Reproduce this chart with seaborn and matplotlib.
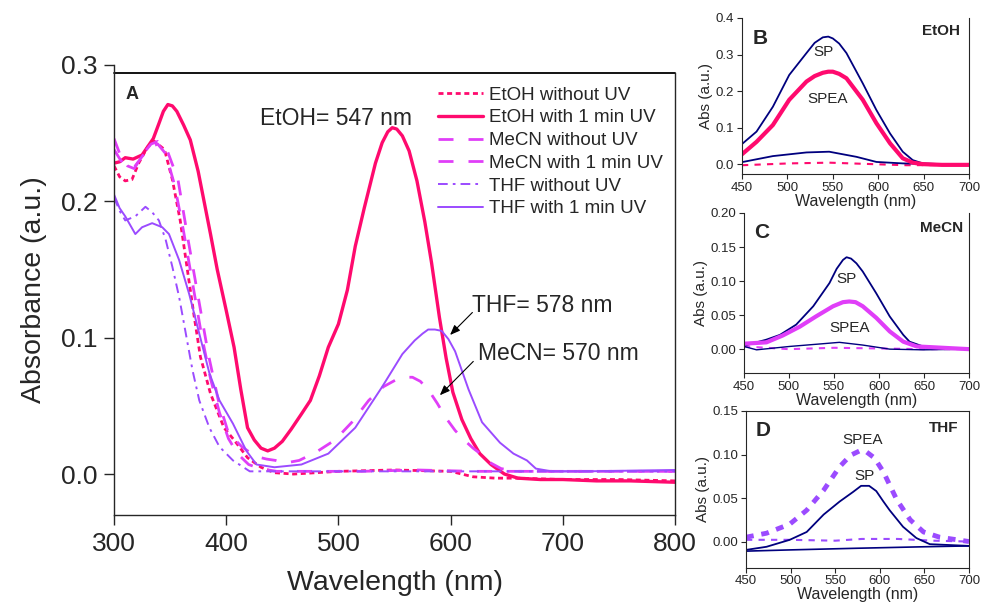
import numpy as np
import pandas as pd
import matplotlib
matplotlib.use("Agg")
import matplotlib.pyplot as plt
import seaborn as sns

# ---------------- data ----------------
# Panel A
etoh_uv_wl = [300, 305, 310, 317, 325, 335, 340, 344, 348, 352, 356, 362, 368, 375, 386, 392, 400, 407,
              413, 419, 425, 431, 437, 443, 450, 458, 467, 475, 483, 491, 500, 508, 515, 523, 533, 539,
              544, 548, 552, 557, 563, 570, 577, 583, 590, 596, 602, 610, 618, 626, 636, 648, 660, 680,
              700, 730, 760, 800]
etoh_uv_abs = [0.228, 0.229, 0.232, 0.231, 0.234, 0.246, 0.257, 0.266, 0.271, 0.270, 0.266, 0.256, 0.245,
               0.222, 0.176, 0.150, 0.120, 0.093, 0.062, 0.034, 0.025, 0.019, 0.017, 0.019, 0.024, 0.033,
               0.044, 0.054, 0.072, 0.093, 0.110, 0.135, 0.167, 0.195, 0.228, 0.243, 0.251, 0.254, 0.253,
               0.248, 0.237, 0.215, 0.185, 0.155, 0.115, 0.085, 0.060, 0.040, 0.026, 0.015, 0.007, 0.000,
               -0.003, -0.004, -0.004, -0.005, -0.005, -0.006]

etoh_wl = [300, 305, 310, 316, 322, 330, 336, 345, 352, 359, 365, 371, 377, 386, 398, 407, 419, 431, 443,
           460, 500, 550, 600, 620, 640, 660, 700, 750, 800]
etoh_abs = [0.226, 0.218, 0.215, 0.216, 0.228, 0.240, 0.244, 0.238, 0.216, 0.186, 0.152, 0.118, 0.086,
            0.059, 0.034, 0.025, 0.012, 0.005, 0.001, 0.000, 0.002, 0.003, 0.002, -0.002, -0.003, -0.003,
            -0.004, -0.004, -0.005]

mecn_uv_wl = [300, 306, 312, 318, 327, 333, 339, 348, 357, 366, 375, 384, 393, 402, 414, 426, 436, 444,
              452, 465, 480, 497, 512, 527, 540, 551, 558, 566, 573, 580, 588, 596, 604, 612, 620, 628,
              636, 645, 660, 700, 750, 800]
mecn_uv_abs = [0.246, 0.233, 0.226, 0.224, 0.236, 0.242, 0.244, 0.236, 0.216, 0.172, 0.130, 0.088, 0.054,
               0.030, 0.020, 0.013, 0.011, 0.010, 0.008, 0.010, 0.016, 0.025, 0.038, 0.054, 0.064, 0.069,
               0.071, 0.071, 0.068, 0.062, 0.052, 0.041, 0.032, 0.025, 0.019, 0.014, 0.008, 0.004, 0.002,
               0.002, 0.002, 0.002]

mecn_wl = [300, 306, 312, 318, 327, 333, 339, 346, 354, 362, 370, 378, 386, 394, 402, 410, 420, 430, 445,
           470, 520, 570, 620, 700, 800]
mecn_abs = [0.238, 0.230, 0.225, 0.225, 0.235, 0.240, 0.242, 0.235, 0.212, 0.178, 0.140, 0.102, 0.070,
            0.045, 0.026, 0.015, 0.007, 0.004, 0.002, 0.002, 0.002, 0.003, 0.002, 0.002, 0.002]

thf_wl = [300, 305, 310, 319, 328, 334, 340, 346, 352, 358, 364, 370, 376, 385, 394, 406, 421, 440, 500,
          600, 700, 800]
thf_abs = [0.203, 0.193, 0.186, 0.189, 0.196, 0.192, 0.186, 0.172, 0.152, 0.130, 0.103, 0.076, 0.054,
           0.034, 0.020, 0.010, 0.002, 0.002, 0.002, 0.002, 0.002, 0.002]

thf_uv_wl = [300, 305, 310, 319, 325, 334, 343, 349, 358, 367, 376, 385, 394, 406, 418, 427, 443, 467,
             491, 515, 539, 557, 568, 575, 580, 586, 592, 598, 604, 616, 628, 644, 656, 668, 676, 690,
             720, 800]
thf_uv_abs = [0.205, 0.195, 0.189, 0.176, 0.181, 0.184, 0.181, 0.176, 0.157, 0.132, 0.103, 0.074, 0.054,
              0.037, 0.017, 0.007, 0.005, 0.007, 0.015, 0.034, 0.064, 0.088, 0.098, 0.103, 0.106, 0.106,
              0.105, 0.099, 0.090, 0.062, 0.038, 0.023, 0.015, 0.010, 0.004, 0.002, 0.002, 0.003]

legend_labels = ["EtOH without UV", "EtOH with 1 min UV", "MeCN without UV",
                 "MeCN with 1 min UV", "THF without UV", "THF with 1 min UV"]

# Panel B (EtOH)
b_sp_wl = [450, 466, 484, 502, 521, 530, 539, 545, 550, 557, 565, 583, 598, 613, 627, 638, 649, 670, 700]
b_sp_abs = [0.055, 0.089, 0.157, 0.244, 0.304, 0.332, 0.347, 0.349, 0.344, 0.330, 0.304, 0.221, 0.148,
            0.084, 0.034, 0.011, 0.002, 0.000, 0.000]
b_spea_wl = [450, 466, 484, 502, 521, 530, 539, 545, 550, 557, 565, 583, 598, 613, 627, 638, 649, 670, 700]
b_spea_abs = [0.027, 0.061, 0.107, 0.176, 0.226, 0.241, 0.250, 0.253, 0.253, 0.247, 0.235, 0.176, 0.112,
              0.057, 0.016, 0.004, 0.000, -0.002, -0.002]
b_sp0_wl = [450, 484, 521, 546, 576, 598, 627, 700]
b_sp0_abs = [0.0055, 0.022, 0.032, 0.034, 0.020, 0.006, 0.002, -0.002]
b_spea0_wl = [450, 502, 546, 594, 631, 700]
b_spea0_abs = [-0.003, 0.002, 0.004, 0.000, -0.003, -0.002]

# Panel C (MeCN)
c_sp_wl = [450, 475, 490, 508, 527, 545, 553, 560, 564, 569, 575, 582, 597, 612, 627, 634, 649, 700]
c_sp_abs = [0.005, 0.014, 0.021, 0.036, 0.063, 0.097, 0.118, 0.131, 0.135, 0.133, 0.126, 0.114, 0.082,
            0.048, 0.021, 0.011, 0.004, 0.000]
c_spea_wl = [450, 475, 493, 512, 530, 549, 560, 567, 574, 582, 597, 612, 627, 642, 700]
c_spea_abs = [0.008, 0.010, 0.020, 0.033, 0.048, 0.063, 0.069, 0.070, 0.069, 0.063, 0.046, 0.026, 0.011,
              0.004, 0.000]
c_sp0_wl = [450, 464, 501, 538, 556, 582, 612, 649, 700]
c_sp0_abs = [0.004, -0.001, 0.004, 0.008, 0.010, 0.006, 0.000, -0.001, 0.000]
c_spea0_wl = [450, 500, 550, 600, 650, 700]
c_spea0_abs = [0.004, 0.000, 0.002, 0.001, 0.000, 0.000]

# Panel D (THF)
d_spea_wl = [450, 473, 499, 518, 537, 555, 567, 577, 585, 594, 604, 619, 634, 649, 667, 700]
d_spea_abs = [0.005, 0.0096, 0.020, 0.036, 0.059, 0.086, 0.099, 0.104, 0.103, 0.096, 0.080, 0.048, 0.025,
              0.011, 0.005, 0.000]
d_sp_wl = [450, 473, 499, 518, 537, 555, 570, 579, 588, 596, 604, 611, 626, 641, 656, 700]
d_sp_abs = [-0.0096, -0.006, 0.002, 0.011, 0.031, 0.046, 0.057, 0.064, 0.064, 0.058, 0.046, 0.036, 0.017,
            0.004, -0.003, -0.005]
d_sp0_wl = [450, 499, 574, 649, 700]
d_sp0_abs = [-0.011, -0.0096, -0.0077, -0.006, -0.005]
d_spea0_wl = [450, 499, 550, 580, 620, 660, 700]
d_spea0_abs = [0.002, 0.002, 0.001, 0.003, 0.003, 0.001, 0.000]

# ---------------- style ----------------
sns.set_theme(style="ticks")
plt.rcParams["font.family"] = ["Liberation Sans", "DejaVu Sans"]
plt.rcParams["axes.linewidth"] = 1.0

PINK = "#FF0A6E"
MAG = "#E03EF8"
PURP = "#9B4BFF"
NAVY = "#00007E"

fig = plt.figure(figsize=(9.82, 6.05), dpi=100)


def draw(ax, wl, ab, color, lw, ls="-"):
    sns.lineplot(x=wl, y=ab, ax=ax, color=color, linewidth=lw, linestyle=ls,
                 estimator=None, sort=False)
    return ax.lines[-1]


# ---------------- Panel A ----------------
axA = fig.add_axes([0.1161, 0.1488, 0.5713, 0.7438])
h = []
h.append(draw(axA, etoh_wl, etoh_abs, PINK, 2.0, (0, (1.8, 1.3))))
h.append(draw(axA, etoh_uv_wl, etoh_uv_abs, PINK, 2.4))
h.append(draw(axA, mecn_wl, mecn_abs, MAG, 2.0, (0, (5.4, 5.4))))
h.append(draw(axA, mecn_uv_wl, mecn_uv_abs, MAG, 2.0, (0, (5.4, 5.4))))
h.append(draw(axA, thf_wl, thf_abs, PURP, 1.4, (0, (5, 2.6, 1.4, 2.6))))
h.append(draw(axA, thf_uv_wl, thf_uv_abs, PURP, 1.4))

axA.set_xlim(300, 800)
axA.set_ylim(-0.03, 0.3)
axA.set_xticks([300, 400, 500, 600, 700, 800])
axA.set_yticks([0.0, 0.1, 0.2, 0.3])
axA.set_yticklabels(["0.0", "0.1", "0.2", "0.3"])
axA.tick_params(axis="both", labelsize=19, length=7, width=1.0, direction="out", pad=5)
axA.set_xlabel("Wavelength (nm)", fontsize=20.5, labelpad=10)
axA.set_ylabel("Absorbance (a.u.)", fontsize=20.5, labelpad=10)
axA.spines["top"].set_visible(False)
axA.spines["right"].set_bounds(-0.03, 0.294)
axA.plot([300, 800], [0.294, 0.294], color="black", lw=1.3, clip_on=False)

leg = axA.legend(h, legend_labels, loc="upper left", bbox_to_anchor=(0.578, 0.952),
                 frameon=False, fontsize=13.5, handlelength=2.4, handletextpad=0.3,
                 labelspacing=0.3, borderpad=0, borderaxespad=0)

axA.text(316, 0.278, "A", fontsize=13, fontweight="bold", ha="center", va="center")
axA.text(497.7, 0.261, "EtOH= 547 nm", fontsize=16.5, ha="center", va="center")
axA.text(619.4, 0.1237, "THF= 578 nm", fontsize=16.5, ha="left", va="center")
axA.text(624, 0.0883, "MeCN= 570 nm", fontsize=16.5, ha="left", va="center")
arrow = dict(arrowstyle="-|>,head_length=0.5,head_width=0.2", color="black", lw=0.8,
             shrinkA=0, shrinkB=0)
axA.annotate("", xy=(599.5, 0.102), xytext=(619.4, 0.1185), arrowprops=arrow)
axA.annotate("", xy=(590.4, 0.0578), xytext=(620.2, 0.0826), arrowprops=arrow)


# ---------------- Insets ----------------
def inset(rect, ylim, yticks, fmt, letter, solvent, lpos, spos, top=False):
    ax = fig.add_axes(rect)
    ax.set_xlim(450, 700)
    ax.set_ylim(*ylim)
    ax.set_xticks([450, 500, 550, 600, 650, 700])
    ax.set_yticks(yticks)
    ax.set_yticklabels([fmt.format(v) for v in yticks])
    ax.tick_params(axis="both", labelsize=9.5, length=3.5, width=0.8, direction="out", pad=2)
    ax.set_xlabel("Wavelength (nm)", fontsize=11.5, labelpad=0)
    ax.set_ylabel("Abs (a.u.)", fontsize=11, labelpad=2)
    ax.spines["top"].set_visible(top)
    for s in ax.spines.values():
        s.set_linewidth(0.8)
    ax.text(lpos[0], lpos[1], letter, fontsize=15, fontweight="bold", ha="center", va="center")
    ax.text(spos[0], spos[1], solvent, fontsize=11, fontweight="bold", ha="right", va="center")
    return ax


axB = inset([0.7556, 0.7124, 0.2312, 0.2579], (-0.027, 0.4), [0.0, 0.1, 0.2, 0.3, 0.4], "{:.1f}",
            "B", "EtOH", (469.5, 0.345), (689.7, 0.363))
draw(axB, b_spea0_wl, b_spea0_abs, PINK, 1.5, (0, (3, 3)))
draw(axB, b_sp0_wl, b_sp0_abs, NAVY, 1.3)
draw(axB, b_sp_wl, b_sp_abs, NAVY, 1.3)
draw(axB, b_spea_wl, b_spea_abs, PINK, 3.0)
axB.text(539.2, 0.307, "SP", fontsize=11, ha="center", va="center")
axB.text(544.7, 0.178, "SPEA", fontsize=11, ha="center", va="center")

axC = inset([0.7576, 0.3835, 0.2291, 0.2645], (-0.035, 0.2), [0.0, 0.05, 0.10, 0.15, 0.20], "{:.2f}",
            "C", "MeCN", (469.3, 0.172), (694, 0.178))
draw(axC, c_spea0_wl, c_spea0_abs, MAG, 1.5, (0, (3, 3)))
draw(axC, c_sp0_wl, c_sp0_abs, NAVY, 1.0)
draw(axC, c_sp_wl, c_sp_abs, NAVY, 1.3)
draw(axC, c_spea_wl, c_spea_abs, MAG, 3.0)
axC.text(563.7, 0.103, "SP", fontsize=11, ha="center", va="center")
axC.text(567.4, 0.031, "SPEA", fontsize=11, ha="center", va="center")

axD = inset([0.7597, 0.0617, 0.2271, 0.2590], (-0.03, 0.15), [0.0, 0.05, 0.10, 0.15], "{:.2f}",
            "D", "THF", (469.4, 0.127), (687.7, 0.131), top=True)
draw(axD, d_spea0_wl, d_spea0_abs, PURP, 1.5, (0, (3, 3)))
draw(axD, d_sp0_wl, d_sp0_abs, NAVY, 1.2)
draw(axD, d_sp_wl, d_sp_abs, NAVY, 1.3)
draw(axD, d_spea_wl, d_spea_abs, PURP, 3.5, (0, (1.6, 1.6)))
axD.text(581, 0.117, "SPEA", fontsize=11, ha="center", va="center")
axD.text(583, 0.075, "SP", fontsize=11, ha="center", va="center")

fig.savefig("out.png", dpi=100)
